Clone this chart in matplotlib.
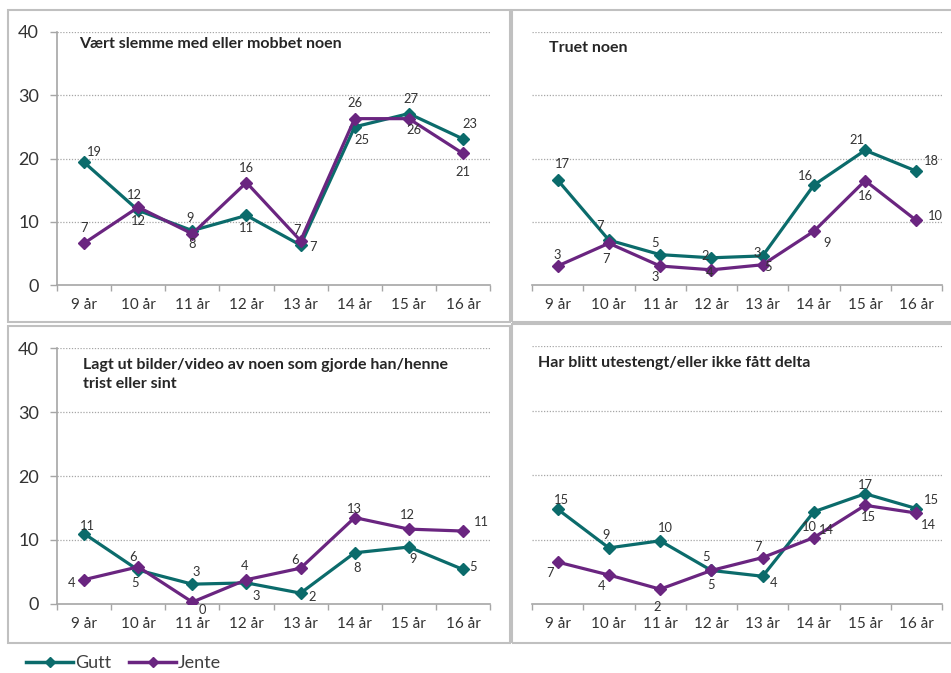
import matplotlib
matplotlib.use("Agg")
import matplotlib.pyplot as plt
from matplotlib.patches import Rectangle
from matplotlib.lines import Line2D

plt.rcParams['font.family'] = ['Lato', 'DejaVu Sans']

W, H = 951, 673
TEAL = '#0B6B6B'
PURPLE = '#6A2580'

categories = ['9 år', '10 år', '11 år', '12 år', '13 år', '14 år', '15 år', '16 år']

# panel 1: Vært slemme med eller mobbet noen
p1_gutt = [19.4, 11.8, 8.6, 11.0, 6.3, 25.0, 27.1, 23.1]
p1_jente = [6.6, 12.3, 8.1, 16.2, 7.0, 26.3, 26.3, 20.8]
p1_gutt_lbl = ['19', '12', '9', '11', '7', '25', '27', '23']
p1_jente_lbl = ['7', '12', '8', '16', '7', '26', '26', '21']

# panel 2: Truet noen
p2_gutt = [16.6, 7.1, 4.8, 4.3, 4.6, 15.8, 21.3, 18.0]
p2_jente = [3.0, 6.6, 3.0, 2.4, 3.2, 8.5, 16.5, 10.2]
p2_gutt_lbl = ['17', '7', '5', '2', '3', '16', '21', '18']
p2_jente_lbl = ['3', '7', '3', '4', '5', '9', '16', '10']

# panel 3: Lagt ut bilder/video
p3_gutt = [11.0, 5.3, 3.1, 3.3, 1.7, 8.0, 8.9, 5.4]
p3_jente = [3.8, 5.8, 0.3, 3.8, 5.6, 13.5, 11.7, 11.4]
p3_gutt_lbl = ['11', '5', '3', '3', '2', '8', '9', '5']
p3_jente_lbl = ['4', '6', '0', '4', '6', '13', '12', '11']

# panel 4: Har blitt utestengt
p4_gutt = [14.7, 8.7, 9.8, 5.2, 4.3, 14.3, 17.1, 14.8]
p4_jente = [6.5, 4.5, 2.3, 5.2, 7.2, 10.3, 15.3, 14.1]
p4_gutt_lbl = ['15', '9', '10', '5', '4', '14', '17', '15']
p4_jente_lbl = ['7', '4', '2', '5', '7', '10', '15', '14']

titles = ['Vært slemme med eller mobbet noen',
          'Truet noen',
          'Lagt ut bilder/video av noen som gjorde han/henne\ntrist eller sint',
          'Har blitt utestengt/eller ikke fått delta']

# label offsets in pixels (dx, dy)
off_g = [
    [(10, 10), (0, -11), (-2, 13), (0, -13), (12, -2), (7, -13), (2, 15), (7, 15)],
    [(5, 16), (-9, 14), (-5, 12), (-6, 2), (-5, 3), (-8, 9), (-8, 10), (15, 10)],
    [(3, 8), (-3, -13), (4, 12), (10, -13), (12, -4), (2, -15), (4, -12), (10, 2)],
    [(4, 9), (-3, 13), (5, 13), (-5, 13), (11, -7), (13, -18), (0, 9), (15, 9)],
]
off_j = [
    [(0, 15), (-4, 12), (0, -10), (0, 15), (-4, 11), (0, 16), (5, -11), (0, -19)],
    [(0, 11), (-3, -16), (-5, -11), (-2, -3), (5, -2), (13, -12), (0, -15), (19, 4)],
    [(-13, -3), (-5, 10), (10, -8), (-2, 14), (-6, 8), (0, 9), (-1, 14), (18, 9)],
    [(-8, -11), (-7, -11), (-3, -18), (0, -15), (-5, 11), (-4, 11), (3, -12), (12, -12)],
]

panels = [
    (p1_gutt, p1_jente, p1_gutt_lbl, p1_jente_lbl),
    (p2_gutt, p2_jente, p2_gutt_lbl, p2_jente_lbl),
    (p3_gutt, p3_jente, p3_gutt_lbl, p3_jente_lbl),
    (p4_gutt, p4_jente, p4_gutt_lbl, p4_jente_lbl),
]

# axes boxes in pixels: left, top, right, bottom
boxes = [(57, 32, 490, 285), (532, 32, 942, 285), (57, 348, 490, 604), (532, 346, 942, 604)]
borders = [(8, 10, 510, 322), (512, 10, 960, 322), (8, 326, 510, 643), (512, 324, 960, 643)]
title_pos = [(79, 44), (549, 48), (83, 358), (538, 363)]

fig = plt.figure(figsize=(W / 100, H / 100), dpi=100)


def fx(x):
    return x / W


def fy(y):
    return 1 - y / H


for l, t, r, b in borders:
    fig.patches.append(Rectangle((fx(l), fy(b)), fx(r - l), (b - t) / H, transform=fig.transFigure,
                                 fill=False, edgecolor='#C0C0C0', lw=1.5))

x = list(range(len(categories)))
for i, (g, j, gl, jl) in enumerate(panels):
    l, t, r, b = boxes[i]
    ax = fig.add_axes([fx(l), fy(b), fx(r - l), (b - t) / H])
    ax.plot(x, g, color=TEAL, lw=2.3, marker='D', ms=6.5, zorder=3)
    ax.plot(x, j, color=PURPLE, lw=2.3, marker='D', ms=6.5, zorder=3)
    for k in x:
        ax.annotate(gl[k], (k, g[k]), xytext=off_g[i][k], textcoords='offset pixels',
                    ha='center', va='center', fontsize=9.3, color='#333333', zorder=4)
        ax.annotate(jl[k], (k, j[k]), xytext=off_j[i][k], textcoords='offset pixels',
                    ha='center', va='center', fontsize=9.3, color='#333333', zorder=4)
    ax.set_xlim(-0.5, 7.5)
    ax.set_ylim(0, 40)
    ax.set_xticks(x)
    ax.set_xticklabels(categories)
    ax.set_xticks([k - 0.5 for k in range(9)], minor=True)
    ax.tick_params(axis='x', which='major', length=0, pad=9, labelsize=11, labelcolor='#333333')
    ax.tick_params(axis='x', which='minor', length=4, color='#A6A6A6', width=1)
    ax.set_yticks([0, 10, 20, 30, 40])
    for y in [10, 20, 30, 40]:
        ax.axhline(y, color='#A6A6A6', lw=0.9, ls=(0, (1, 1.3)), zorder=1)
    for s in ['top', 'right']:
        ax.spines[s].set_visible(False)
    ax.spines['bottom'].set_color('#A6A6A6')
    ax.spines['bottom'].set_linewidth(1.2)
    if i % 2 == 0:
        ax.spines['left'].set_color('#A6A6A6')
        ax.spines['left'].set_linewidth(1.2)
        ax.tick_params(axis='y', length=5, color='#A6A6A6', width=1, pad=8, labelsize=13,
                       labelcolor='#333333')
    else:
        ax.spines['left'].set_visible(False)
        ax.tick_params(axis='y', length=0, labelleft=False)
    tx, ty = title_pos[i]
    fig.text(fx(tx), fy(ty), titles[i], fontsize=11.5, fontweight='bold', color='#262626',
             va='center' if '\n' not in titles[i] else 'top', linespacing=1.5)

handles = [Line2D([], [], color=TEAL, lw=2.5, marker='D', ms=5),
           Line2D([], [], color=PURPLE, lw=2.5, marker='D', ms=5)]
fig.legend(handles, ['Gutt', 'Jente'], loc='center left', bbox_to_anchor=(fx(10), fy(663)), ncol=2,
           frameon=False, fontsize=13, handlelength=2.6, handletextpad=0.1, columnspacing=1.0,
           labelcolor='#404040')

fig.savefig('out.png', dpi=100)
